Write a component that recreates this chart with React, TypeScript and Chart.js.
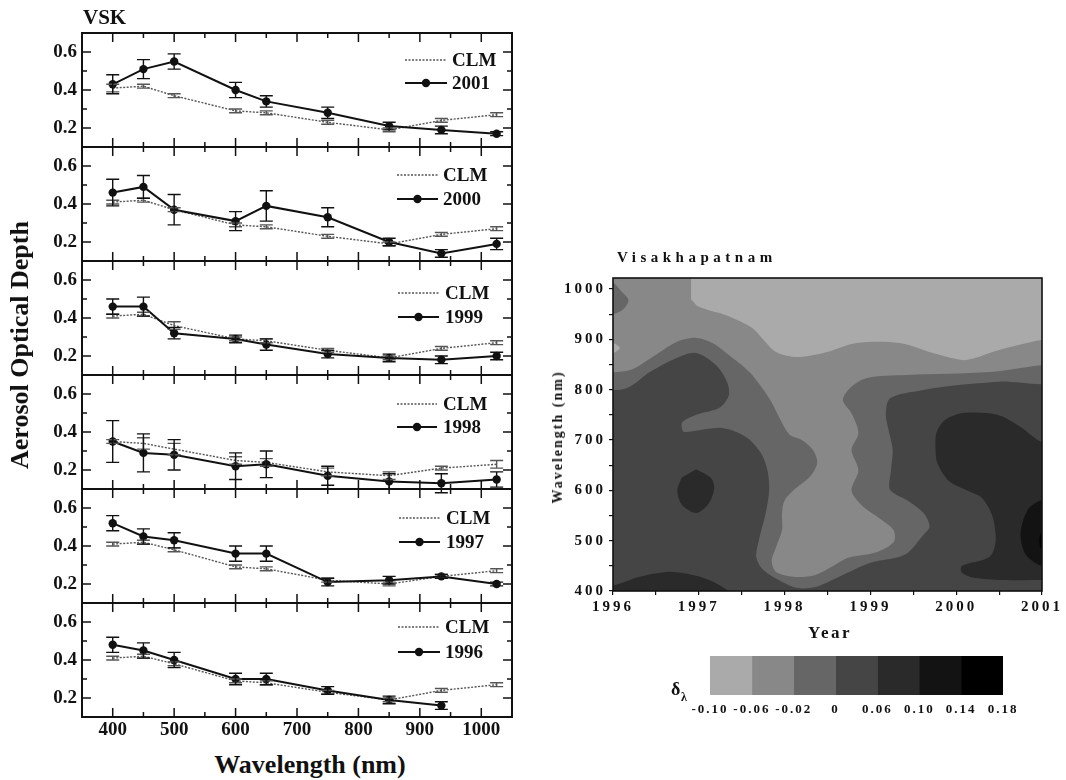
import React, { useEffect, useRef } from 'react';
import { Chart, registerables } from 'chart.js';
Chart.register(...registerables);

// ---------------- data: left panels ----------------
const WAVELENGTHS = [400, 450, 500, 600, 650, 750, 850, 935, 1025];
const X_TICKS = [400, 500, 600, 700, 800, 900, 1000];
const Y_TICKS = [0.2, 0.4, 0.6];
const PANEL_YEARS = ['2001', '2000', '1999', '1998', '1997', '1996'];

const AOD_2001 = [0.43, 0.51, 0.55, 0.40, 0.34, 0.28, 0.21, 0.19, 0.17];
const AOD_ERR_2001 = [0.05, 0.05, 0.04, 0.04, 0.03, 0.03, 0.02, 0.02, 0.01];
const CLM_2001 = [0.41, 0.42, 0.37, 0.29, 0.28, 0.23, 0.19, 0.24, 0.27];
const CLM_ERR_2001 = [0.02, 0.01, 0.01, 0.01, 0.01, 0.01, 0.01, 0.01, 0.01];

const AOD_2000 = [0.46, 0.49, 0.37, 0.31, 0.39, 0.33, 0.20, 0.14, 0.19];
const AOD_ERR_2000 = [0.07, 0.06, 0.08, 0.05, 0.08, 0.05, 0.02, 0.02, 0.03];
const CLM_2000 = [0.41, 0.42, 0.37, 0.29, 0.28, 0.23, 0.19, 0.24, 0.27];
const CLM_ERR_2000 = [0.01, 0.01, 0.01, 0.01, 0.01, 0.01, 0.01, 0.01, 0.01];

const AOD_1999 = [0.46, 0.46, 0.32, 0.29, 0.26, 0.21, 0.19, 0.18, 0.20];
const AOD_ERR_1999 = [0.04, 0.05, 0.03, 0.02, 0.03, 0.02, 0.02, 0.02, 0.02];
const CLM_1999 = [0.41, 0.42, 0.36, 0.29, 0.28, 0.23, 0.19, 0.24, 0.27];
const CLM_ERR_1999 = [0.01, 0.01, 0.02, 0.01, 0.01, 0.01, 0.01, 0.01, 0.01];

const AOD_1998 = [0.35, 0.29, 0.28, 0.22, 0.23, 0.17, 0.14, 0.13, 0.15];
const AOD_ERR_1998 = [0.11, 0.10, 0.08, 0.07, 0.07, 0.05, 0.04, 0.05, 0.04];
const CLM_1998 = [0.35, 0.34, 0.31, 0.25, 0.24, 0.19, 0.17, 0.21, 0.23];
const CLM_ERR_1998 = [0.01, 0.03, 0.03, 0.02, 0.02, 0.02, 0.02, 0.01, 0.02];

const AOD_1997 = [0.52, 0.45, 0.43, 0.36, 0.36, 0.21, 0.22, 0.24, 0.20];
const AOD_ERR_1997 = [0.04, 0.04, 0.04, 0.04, 0.04, 0.02, 0.02, 0.01, 0.01];
const CLM_1997 = [0.41, 0.42, 0.38, 0.29, 0.28, 0.22, 0.20, 0.24, 0.27];
const CLM_ERR_1997 = [0.01, 0.01, 0.01, 0.01, 0.01, 0.01, 0.01, 0.01, 0.01];

const AOD_1996 = [0.48, 0.45, 0.40, 0.30, 0.30, 0.24, 0.19, 0.16, null];
const AOD_ERR_1996 = [0.04, 0.04, 0.04, 0.03, 0.03, 0.02, 0.02, 0.02, null];
const CLM_1996 = [0.41, 0.42, 0.38, 0.29, 0.28, 0.23, 0.19, 0.24, 0.27];
const CLM_ERR_1996 = [0.01, 0.01, 0.01, 0.01, 0.01, 0.01, 0.01, 0.01, 0.01];

// ---------------- data: contour (delta) ----------------
const CONTOUR_YEAR_TICKS = [1996, 1996.5, 1997, 1997.5, 1998, 1998.5, 1999, 1999.5, 2000, 2000.5, 2001];
const CONTOUR_WL_TICKS = [400, 450, 500, 550, 600, 650, 700, 750, 800, 850, 900, 950, 1000];
const LEVEL_LABELS = ['-0.10', '-0.06', '-0.02', '0', '0.06', '0.10', '0.14', '0.18'];

// contour regions [year, wavelength] (each region: delta inside a level band)
const REGION_ALL = [[1995.8, 380], [2001.2, 380], [2001.2, 1040], [1995.8, 1040]];
const REGION_BELOW_0 = [
  [1995.8, 1040], [2001.2, 1040], [2001.2, 823], [2000.5, 816], [2000.0, 809], [1999.6, 799], [1999.23, 783],
  [1999.18, 750], [1999.22, 714], [1999.26, 680], [1999.24, 640], [1999.23, 601], [1999.45, 578], [1999.62, 555],
  [1999.69, 528], [1999.62, 512], [1999.4, 472], [1999.0, 456], [1998.63, 428], [1998.36, 408], [1998.15, 406],
  [1997.95, 420], [1997.75, 442], [1997.67, 467], [1997.70, 501], [1997.78, 555], [1997.82, 600], [1997.80, 640],
  [1997.72, 675], [1997.55, 706], [1997.27, 724], [1996.83, 716], [1996.80, 726], [1996.81, 736], [1996.97, 750],
  [1997.24, 764], [1997.35, 789], [1997.33, 815], [1997.2, 849], [1996.97, 873], [1996.74, 863], [1996.43, 835],
  [1996.16, 803], [1995.8, 798]
];
const REGION_BELOW_M002 = [
  [1995.8, 1040], [2001.2, 1040], [2001.2, 850], [2001.0, 849], [2000.39, 835], [1999.42, 829], [1998.95, 823],
  [1998.76, 803], [1998.68, 779], [1998.78, 753], [1998.86, 714], [1998.78, 680], [1998.86, 640], [1998.78, 600],
  [1998.9, 570], [1999.1, 545], [1999.27, 521], [1999.27, 497], [1999.05, 476], [1998.74, 466], [1998.55, 448],
  [1998.36, 432], [1998.13, 428], [1997.9, 438], [1997.85, 460], [1997.90, 487], [1997.97, 521], [1997.97, 555],
  [1998.0, 580], [1998.13, 604], [1998.3, 628], [1998.38, 655], [1998.33, 680], [1998.2, 700], [1998.05, 712],
  [1997.82, 783], [1997.59, 835], [1997.35, 869], [1997.16, 893], [1996.97, 903], [1996.74, 895], [1996.46, 865],
  [1996.2, 839], [1995.8, 833]
];
const REGION_BELOW_M006 = [
  [1996.91, 1040], [2001.2, 1040], [2001.2, 899], [2001.0, 899], [2000.75, 890], [2000.46, 877], [2000.2, 862],
  [2000.07, 859], [1999.73, 873], [1999.34, 893], [1998.84, 893], [1998.45, 873], [1998.13, 865], [1997.9, 875],
  [1997.75, 900], [1997.62, 923], [1997.32, 948], [1997.0, 965], [1996.91, 980]
];
const REGION_NW_POCKET = [[1995.8, 1013], [1996.0, 1012], [1996.1, 995], [1996.18, 978], [1996.12, 960], [1996.0, 950], [1995.8, 950]];
const REGION_W_POCKET = [[1995.8, 872], [1996.0, 873], [1996.08, 883], [1996.0, 893], [1995.8, 893]];
const REGION_ABOVE_006_E = [
  [2001.2, 700], [2001.0, 696], [2000.75, 726], [2000.48, 750], [2000.1, 754], [1999.87, 740], [1999.77, 715],
  [1999.76, 680], [1999.78, 654], [1999.92, 618], [2000.15, 598], [2000.3, 585], [2000.42, 550], [2000.46, 500],
  [2000.39, 468], [2000.07, 450], [2000.06, 438], [2000.19, 427], [2000.54, 422], [2001.2, 422]
];
const REGION_ABOVE_006_C = [[1996.97, 642], [1997.14, 625], [1997.18, 605], [1997.12, 575], [1996.97, 555], [1996.8, 572], [1996.75, 600], [1996.8, 625]];
const REGION_ABOVE_006_SW = [[1995.8, 410], [1996.0, 411], [1996.3, 428], [1996.63, 438], [1996.93, 432], [1997.15, 420], [1997.35, 400], [1997.5, 380], [1995.8, 380]];
const REGION_ABOVE_010 = [[2001.2, 582], [2001.0, 581], [2000.85, 565], [2000.78, 540], [2000.75, 510], [2000.8, 475], [2000.9, 458], [2001.0, 450], [2001.2, 450]];
const REGION_ABOVE_014 = [[2001.2, 520], [2001.0, 517], [2000.97, 500], [2001.0, 482], [2001.2, 480]];

// ---------------- styles / layout ----------------
const SERIF = '"Liberation Serif", "Times New Roman", serif';
const INK = '#111';
const CLM_COLOR = '#555';
const BAND_COLORS = ['#aaaaaa', '#888888', '#666666', '#454545', '#2a2a2a', '#131313', '#000000'];

const PANELS = [
  { year: PANEL_YEARS[0], aod: AOD_2001, err: AOD_ERR_2001, clm: CLM_2001, clmErr: CLM_ERR_2001 },
  { year: PANEL_YEARS[1], aod: AOD_2000, err: AOD_ERR_2000, clm: CLM_2000, clmErr: CLM_ERR_2000 },
  { year: PANEL_YEARS[2], aod: AOD_1999, err: AOD_ERR_1999, clm: CLM_1999, clmErr: CLM_ERR_1999 },
  { year: PANEL_YEARS[3], aod: AOD_1998, err: AOD_ERR_1998, clm: CLM_1998, clmErr: CLM_ERR_1998 },
  { year: PANEL_YEARS[4], aod: AOD_1997, err: AOD_ERR_1997, clm: CLM_1997, clmErr: CLM_ERR_1997 },
  { year: PANEL_YEARS[5], aod: AOD_1996, err: AOD_ERR_1996, clm: CLM_1996, clmErr: CLM_ERR_1996 },
];

const LEGEND_LAYOUT = [
  { x1: 405, x2: 447, tx: 452, dy1: 27, dy2: 50 },
  { x1: 397, x2: 438, tx: 443, dy1: 28, dy2: 52 },
  { x1: 398, x2: 439, tx: 445, dy1: 32, dy2: 56 },
  { x1: 397, x2: 437, tx: 443, dy1: 29, dy2: 52 },
  { x1: 399, x2: 440, tx: 446, dy1: 29, dy2: 53 },
  { x1: 398, x2: 440, tx: 445, dy1: 24, dy2: 49 },
];

const PANEL_TOP = 33;
const PANEL_H = 114;
const PAD = 20;
const X_AXIS_H = 30;

const CONTOUR_LAYERS = [
  { poly: REGION_ALL, band: 3 },
  { poly: REGION_BELOW_0, band: 2 },
  { poly: REGION_BELOW_M002, band: 1 },
  { poly: REGION_BELOW_M006, band: 0 },
  { poly: REGION_NW_POCKET, band: 2 },
  { poly: REGION_W_POCKET, band: 0 },
  { poly: REGION_ABOVE_006_E, band: 4 },
  { poly: REGION_ABOVE_006_C, band: 4 },
  { poly: REGION_ABOVE_006_SW, band: 4 },
  { poly: REGION_ABOVE_010, band: 5 },
  { poly: REGION_ABOVE_014, band: 6 },
];

const tickFont = (size: number) => ({ family: SERIF, weight: 'bold' as const, size });

function panelPlugin(i: number) {
  const lg = LEGEND_LAYOUT[i];
  return {
    id: 'panelDecor' + i,
    afterDatasetsDraw(chart: any) {
      const ctx = chart.ctx;
      const yS = chart.scales.y;
      chart.data.datasets.forEach((ds: any, di: number) => {
        if (!ds.errors) return;
        const meta = chart.getDatasetMeta(di);
        ctx.save();
        ctx.strokeStyle = ds.errColor;
        ctx.lineWidth = 1.4;
        meta.data.forEach((el: any, k: number) => {
          const v = ds.data[k].y;
          const e = ds.errors[k];
          if (v == null || e == null) return;
          const x = el.x;
          const yT = yS.getPixelForValue(v + e);
          const yB = yS.getPixelForValue(v - e);
          ctx.beginPath();
          ctx.moveTo(x, yT); ctx.lineTo(x, yB);
          ctx.moveTo(x - 6.5, yT); ctx.lineTo(x + 6.5, yT);
          ctx.moveTo(x - 6.5, yB); ctx.lineTo(x + 6.5, yB);
          ctx.stroke();
        });
        ctx.restore();
      });
    },
    afterDraw(chart: any) {
      const ctx = chart.ctx;
      const { left, right, top, bottom } = chart.chartArea;
      const xS = chart.scales.x;
      const yS = chart.scales.y;
      ctx.save();
      ctx.strokeStyle = INK;
      ctx.lineWidth = 1.5;
      ctx.beginPath();
      for (let v = 400; v <= 1000; v += 50) {
        const px = xS.getPixelForValue(v);
        const len = v % 100 === 0 ? 9 : 5;
        ctx.moveTo(px, top); ctx.lineTo(px, top + len);
        ctx.moveTo(px, bottom); ctx.lineTo(px, bottom - len);
      }
      [0.2, 0.3, 0.4, 0.5, 0.6].forEach((v) => {
        const py = yS.getPixelForValue(v);
        const len = Y_TICKS.includes(v) ? 9 : 5;
        ctx.moveTo(left, py); ctx.lineTo(left + len, py);
        ctx.moveTo(right, py); ctx.lineTo(right - len, py);
      });
      ctx.stroke();
      ctx.lineWidth = 2;
      ctx.strokeRect(left, top, right - left, bottom - top);

      // legend
      const y1 = top + lg.dy1;
      const y2 = top + lg.dy2;
      ctx.strokeStyle = CLM_COLOR;
      ctx.lineWidth = 1.4;
      ctx.setLineDash([2, 1.5]);
      ctx.beginPath(); ctx.moveTo(lg.x1, y1); ctx.lineTo(lg.x2, y1); ctx.stroke();
      ctx.setLineDash([]);
      ctx.strokeStyle = INK;
      ctx.lineWidth = 2;
      ctx.beginPath(); ctx.moveTo(lg.x1, y2); ctx.lineTo(lg.x2, y2); ctx.stroke();
      ctx.fillStyle = INK;
      ctx.beginPath(); ctx.arc((lg.x1 + lg.x2) / 2, y2, 4.2, 0, Math.PI * 2); ctx.fill();
      ctx.font = 'bold 19px ' + SERIF;
      ctx.textAlign = 'left';
      ctx.textBaseline = 'middle';
      ctx.fillText('CLM', lg.tx, y1 + 1);
      ctx.fillText(chart.data.datasets[1].label, lg.tx, y2 + 1);
      ctx.restore();
    },
  };
}

function panelConfig(i: number) {
  const p = PANELS[i];
  const isLast = i === PANELS.length - 1;
  return {
    type: 'scatter',
    data: {
      datasets: [
        {
          label: 'CLM',
          data: WAVELENGTHS.map((w, k) => ({ x: w, y: p.clm[k] })),
          errors: p.clmErr,
          errColor: CLM_COLOR,
          showLine: true,
          borderColor: CLM_COLOR,
          borderWidth: 1.4,
          borderDash: [2, 1.5],
          pointRadius: 0,
          order: 1,
        },
        {
          label: p.year,
          data: WAVELENGTHS.map((w, k) => ({ x: w, y: p.aod[k] })),
          errors: p.err,
          errColor: INK,
          showLine: true,
          borderColor: INK,
          borderWidth: 2,
          pointRadius: 4.2,
          pointBackgroundColor: INK,
          pointBorderWidth: 0,
          order: 0,
        },
      ],
    },
    options: {
      responsive: false,
      animation: false,
      events: [],
      layout: { padding: { left: 0, right: 28, top: PAD, bottom: isLast ? 0 : PAD } },
      plugins: { legend: { display: false }, tooltip: { enabled: false } },
      scales: {
        x: {
          type: 'linear',
          min: 350,
          max: 1050,
          display: isLast,
          afterBuildTicks: (s: any) => { s.ticks = X_TICKS.map((v) => ({ value: v })); },
          afterFit: (s: any) => { s.height = isLast ? X_AXIS_H : 0; },
          grid: { display: false, drawTicks: false },
          border: { display: false },
          ticks: { font: tickFont(19), color: INK, padding: 2, maxRotation: 0, autoSkip: false, callback: (v: any) => String(v) },
        },
        y: {
          type: 'linear',
          min: 0.1,
          max: 0.7,
          afterBuildTicks: (s: any) => { s.ticks = Y_TICKS.map((v) => ({ value: v })); },
          afterFit: (s: any) => { s.width = 82; },
          grid: { display: false, drawTicks: false },
          border: { display: false },
          ticks: { font: tickFont(19), color: INK, padding: 5, callback: (v: any) => Number(v).toFixed(1) },
        },
      },
    },
    plugins: [panelPlugin(i)],
  };
}

function spacingPlugin(px: string) {
  return {
    id: 'spacing',
    beforeUpdate(chart: any) { chart.ctx.letterSpacing = px; },
    beforeDraw(chart: any) { chart.ctx.letterSpacing = px; },
  };
}

function contourConfig() {
  const n = CONTOUR_LAYERS.length;
  return {
    type: 'scatter',
    data: {
      datasets: CONTOUR_LAYERS.map((L, i) => ({
        data: L.poly.map(([x, y]) => ({ x, y })),
        showLine: true,
        fill: 'shape',
        backgroundColor: BAND_COLORS[L.band],
        borderColor: BAND_COLORS[L.band],
        borderWidth: 0,
        pointRadius: 0,
        tension: 0.3,
        order: n - i,
      })),
    },
    options: {
      responsive: false,
      animation: false,
      events: [],
      elements: { line: { capBezierPoints: false } },
      layout: { padding: { left: 0, right: 21, top: 38, bottom: 0 } },
      plugins: { legend: { display: false }, tooltip: { enabled: false } },
      scales: {
        x: {
          type: 'linear',
          min: 1996,
          max: 2001,
          afterBuildTicks: (s: any) => { s.ticks = CONTOUR_YEAR_TICKS.map((v) => ({ value: v })); },
          afterFit: (s: any) => { s.height = 69; },
          grid: { display: true, drawOnChartArea: false, drawTicks: true, tickLength: 4, color: INK, lineWidth: 1.2 },
          border: { display: false },
          ticks: { font: tickFont(15), color: INK, padding: 3, maxRotation: 0, autoSkip: false, callback: (v: any) => (Number.isInteger(v) ? String(v) : '') },
        },
        y: {
          type: 'linear',
          min: 400,
          max: 1022,
          afterBuildTicks: (s: any) => { s.ticks = CONTOUR_WL_TICKS.map((v) => ({ value: v })); },
          afterFit: (s: any) => { s.width = 73; },
          grid: { display: true, drawOnChartArea: false, drawTicks: true, tickLength: 4, color: INK, lineWidth: 1.2 },
          border: { display: false },
          ticks: { font: tickFont(15), color: INK, padding: 3, autoSkip: false, callback: (v: any) => (v % 100 === 0 ? String(v) : '') },
        },
      },
    },
    plugins: [
      spacingPlugin('3px'),
      {
        id: 'frame',
        afterDraw(chart: any) {
          const { left, right, top, bottom } = chart.chartArea;
          const ctx = chart.ctx;
          ctx.save();
          ctx.strokeStyle = INK;
          ctx.lineWidth = 1.6;
          ctx.strokeRect(left, top, right - left, bottom - top);
          ctx.restore();
        },
      },
    ],
  };
}

function colorbarConfig() {
  return {
    type: 'bar',
    data: {
      labels: ['delta'],
      datasets: BAND_COLORS.map((c) => ({
        data: [1],
        backgroundColor: c,
        borderWidth: 0,
        barPercentage: 1,
        categoryPercentage: 1,
      })),
    },
    options: {
      indexAxis: 'y',
      responsive: false,
      animation: false,
      events: [],
      layout: { padding: { left: 50, right: 57, top: 16, bottom: 0 } },
      plugins: { legend: { display: false }, tooltip: { enabled: false } },
      scales: {
        x: {
          type: 'linear',
          stacked: true,
          min: 0,
          max: BAND_COLORS.length,
          afterBuildTicks: (s: any) => { s.ticks = LEVEL_LABELS.map((_, k) => ({ value: k })); },
          afterFit: (s: any) => { s.height = 35; },
          grid: { display: false, drawTicks: false },
          border: { display: false },
          ticks: { font: tickFont(13), color: INK, padding: 7, maxRotation: 0, autoSkip: false, callback: (v: any) => LEVEL_LABELS[v] },
        },
        y: { stacked: true, display: false },
      },
    },
    plugins: [spacingPlugin('2px')],
  };
}

function ChartCanvas({ left, top, width, height, make }: any) {
  const ref = useRef<HTMLCanvasElement>(null);
  useEffect(() => {
    const chart = new Chart(ref.current as any, make() as any);
    return () => chart.destroy();
  }, []);
  return <canvas ref={ref} width={width} height={height} style={{ position: 'absolute', left, top, width, height }} />;
}

function Txt({ x, y, size, ls = 0, rotate = false, align = 'center', children }: any) {
  const tx = align === 'left' ? '0' : '-50%';
  return (
    <div
      style={{
        position: 'absolute',
        left: x,
        top: y,
        fontFamily: SERIF,
        fontWeight: 'bold',
        fontSize: size,
        lineHeight: 1,
        letterSpacing: ls,
        whiteSpace: 'nowrap',
        color: INK,
        transform: `translate(${tx}, -50%)` + (rotate ? ' rotate(-90deg)' : ''),
      }}
    >
      {children}
    </div>
  );
}

export default function App() {
  return (
    <div style={{ position: 'absolute', left: 0, top: 0, width: 1066, height: 780, background: '#fff', overflow: 'hidden' }}>
      {PANELS.map((p, i) => {
        const isLast = i === PANELS.length - 1;
        return (
          <ChartCanvas
            key={p.year}
            left={0}
            top={PANEL_TOP + PANEL_H * i - PAD}
            width={540}
            height={isLast ? PAD + PANEL_H + X_AXIS_H : PAD * 2 + PANEL_H}
            make={() => panelConfig(i)}
          />
        );
      })}
      <ChartCanvas left={540} top={240} width={526} height={420} make={contourConfig} />
      <ChartCanvas left={660} top={640} width={400} height={90} make={colorbarConfig} />

      <Txt x={83} y={17} size={21} align="left">VSK</Txt>
      <Txt x={19.5} y={345} size={26} rotate>Aerosol Optical Depth</Txt>
      <Txt x={310} y={765} size={26}>Wavelength (nm)</Txt>

      <Txt x={617} y={257} size={15} ls={4.5} align="left">Visakhapatnam</Txt>
      <Txt x={558} y={437} size={14} ls={2} rotate>Wavelength (nm)</Txt>
      <Txt x={830} y={631.5} size={17} ls={2.5}>Year</Txt>
      <Txt x={671} y={689} size={18} align="left">δ</Txt>
      <Txt x={681} y={697} size={12} align="left">λ</Txt>
    </div>
  );
}
